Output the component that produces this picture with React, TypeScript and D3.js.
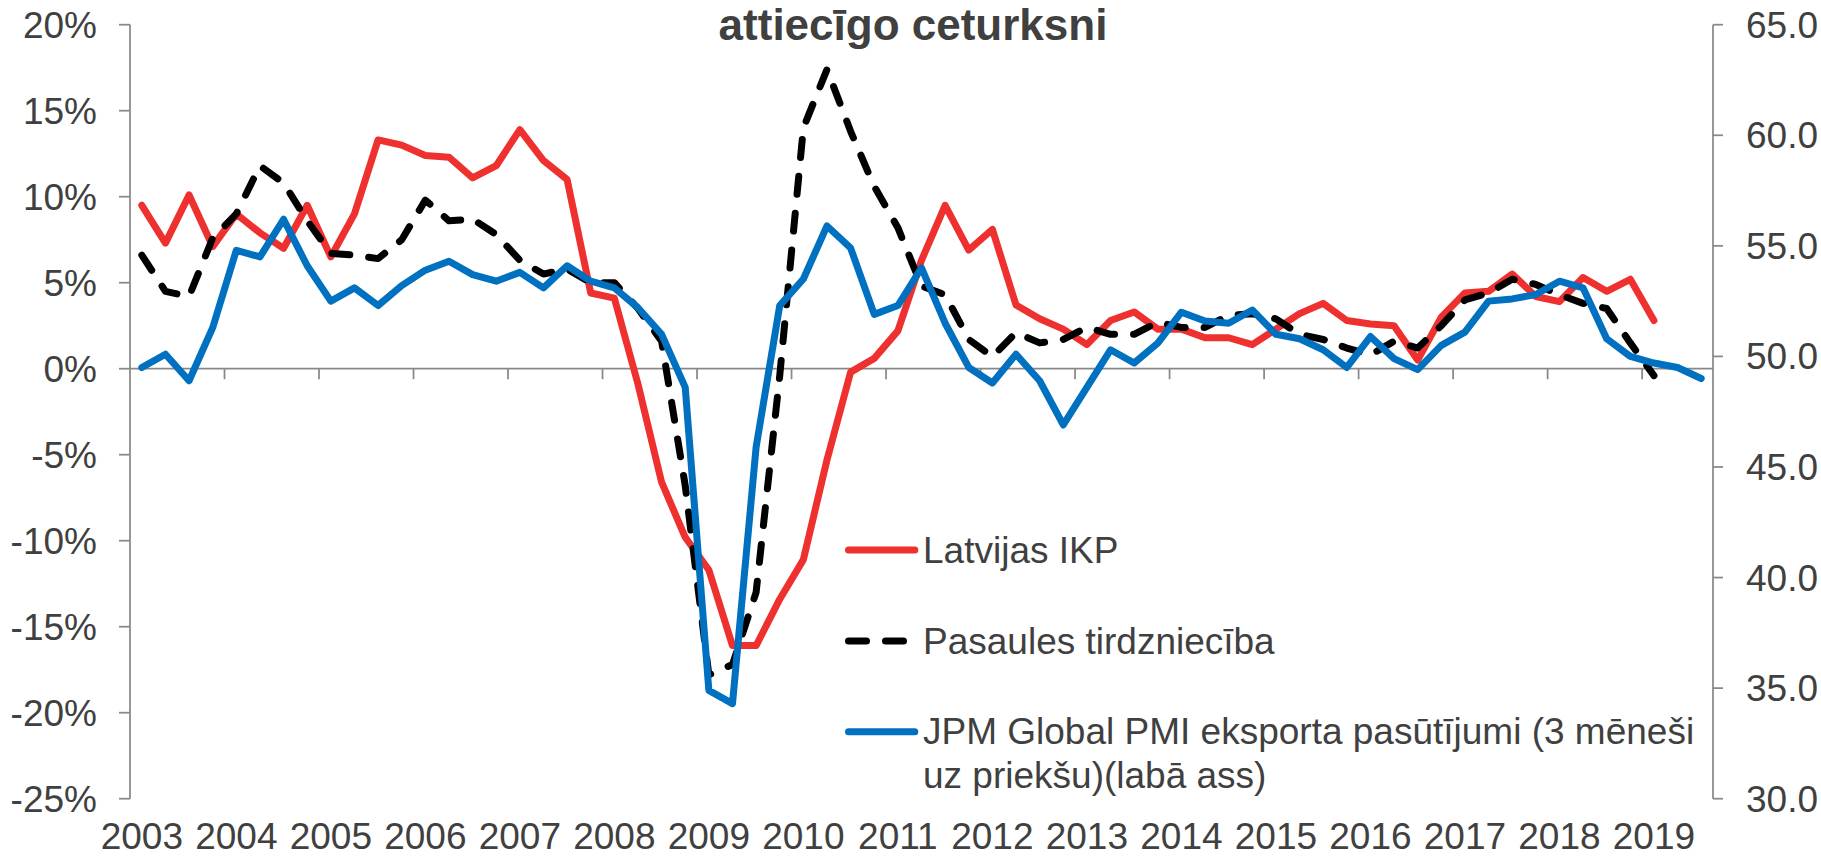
import * as d3 from "d3";

// Quarterly data, 2003Q1 .. 2019Q3
const years = ["2003", "2004", "2005", "2006", "2007", "2008", "2009", "2010", "2011", "2012", "2013", "2014", "2015", "2016", "2017", "2018", "2019"];
const quarterCount = 67;

// Latvijas IKP, % y/y (left axis)
const latviaGdp = [
  9.5, 7.3, 10.1, 7.1, 9.0, 7.9, 7.0, 9.5, 6.5, 9.0, 13.3, 13.0, 12.4, 12.3, 11.1, 11.8,
  13.9, 12.1, 11.0, 4.4, 4.1, -0.9, -6.6, -9.8, -11.7, -16.1, -16.1, -13.4, -11.1, -5.3, -0.2, 0.6,
  2.2, 6.3, 9.5, 6.9, 8.1, 3.7, 2.9, 2.3, 1.4, 2.8, 3.3, 2.3, 2.3, 1.8, 1.8, 1.4,
  2.3, 3.2, 3.8, 2.8, 2.6, 2.5, 0.5, 3.0, 4.4, 4.5, 5.5, 4.2, 3.9, 5.3, 4.5, 5.2,
  2.8,
];

// Pasaules tirdzniecība, % y/y (left axis)
const worldTrade = [
  6.6, 4.5, 4.2, 7.6, 9.0, 11.8, 10.8, 8.6, 6.7, 6.6, 6.4, 7.5, 9.8, 8.6, 8.7, 7.8,
  6.3, 5.5, 5.8, 5.0, 5.0, 3.5, 1.6, -6.8, -17.8, -17.2, -13.0, -0.4, 14.0, 17.4, 13.8, 10.6,
  8.2, 4.8, 4.3, 1.7, 0.7, 2.1, 1.5, 1.7, 2.4, 2.0, 2.0, 2.7, 2.4, 2.4, 3.1, 3.2,
  2.9, 2.0, 1.7, 1.2, 0.8, 1.6, 1.2, 2.5, 4.0, 4.4, 5.2, 4.9, 4.3, 3.8, 3.5, 1.5,
  -0.4,
];

// JPM Global PMI export orders, 3 months ahead (right axis)
const pmiExport = [
  49.5, 50.1, 48.9, 51.3, 54.8, 54.5, 56.2, 54.1, 52.5, 53.1, 52.3, 53.2, 53.9, 54.3, 53.7, 53.4,
  53.8, 53.1, 54.1, 53.4, 53.1, 52.2, 51.0, 48.6, 34.9, 34.3, 45.9, 52.3, 53.5, 55.9, 54.9, 51.9,
  52.3, 54.0, 51.5, 49.5, 48.8, 50.1, 48.9, 46.9, 48.6, 50.3, 49.7, 50.6, 52.0, 51.6, 51.5, 52.1,
  51.0, 50.8, 50.3, 49.5, 50.9, 49.9, 49.4, 50.5, 51.1, 52.5, 52.6, 52.8, 53.4, 53.1, 50.8, 50.0,
  49.7, 49.5, 49.0,
];

const leftTicks = [20, 15, 10, 5, 0, -5, -10, -15, -20, -25];
const rightTicks = [65, 60, 55, 50, 45, 40, 35, 30];

const legendItems = [
  { lines: ["Latvijas IKP"], color: "#ee302e", dash: null },
  { lines: ["Pasaules tirdzniecība"], color: "#000000", dash: "18 19" },
  { lines: ["JPM Global PMI eksporta pasūtījumi (3 mēneši", "uz priekšu)(labā ass)"], color: "#0070c0", dash: null },
];

const W = 1821;
const H = 857;
const FONT = "'Liberation Sans', Arial, sans-serif";
const TEXT = "#404040";
const AXIS = "#888888";

export default function App() {
  const quarters = years.flatMap((y) => [1, 2, 3, 4].map((q) => `${y}Q${q}`)).slice(0, quarterCount);

  const x = d3.scaleBand<string>().domain(quarters).range([130, 1713]).padding(0);
  const cx = (i: number) => (x(quarters[i]) ?? 0) + x.bandwidth() / 2;
  const yL = d3.scaleLinear().domain([-25, 20]).range([798.7, 24.7]);
  const yR = d3.scaleLinear().domain([30, 65]).range([798.7, 24.7]);

  const lineL = d3.line<number>().x((_, i) => cx(i)).y((d) => yL(d));
  const lineR = d3.line<number>().x((_, i) => cx(i)).y((d) => yR(d));

  const zeroY = yL(0);
  const tickIdx = d3.range(4, quarterCount, 4);

  return (
    <svg width={W} height={H} style={{ position: "absolute", left: 0, top: 0, background: "#fff" }} fontFamily={FONT}>
      {/* title (only its last line is in view) */}
      <text x={913} y={40} textAnchor="middle" fontSize={44} fontWeight="bold" fill={TEXT}>
        attiecīgo ceturksni
      </text>

      {/* left axis */}
      <line x1={130} x2={130} y1={yL(20)} y2={yL(-25)} stroke={AXIS} strokeWidth={1.75} />
      {leftTicks.map((t) => (
        <g key={t}>
          <line x1={119} x2={130} y1={yL(t)} y2={yL(t)} stroke={AXIS} strokeWidth={1.75} />
          <text x={97} y={yL(t)} dy="0.35em" textAnchor="end" fontSize={37} fill={TEXT}>
            {`${t}%`}
          </text>
        </g>
      ))}

      {/* right axis */}
      <line x1={1713} x2={1713} y1={yR(65)} y2={yR(30)} stroke={AXIS} strokeWidth={1.75} />
      {rightTicks.map((t) => (
        <g key={t}>
          <line x1={1713} x2={1723} y1={yR(t)} y2={yR(t)} stroke={AXIS} strokeWidth={1.75} />
          <text x={1746} y={yR(t)} dy="0.35em" fontSize={37} fill={TEXT}>
            {d3.format(".1f")(t)}
          </text>
        </g>
      ))}

      {/* category axis at 0% */}
      <line x1={130} x2={1713} y1={zeroY} y2={zeroY} stroke={AXIS} strokeWidth={1.75} />
      {tickIdx.map((i) => (
        <line key={i} x1={x(quarters[i])} x2={x(quarters[i])} y1={zeroY} y2={zeroY + 10.5} stroke={AXIS} strokeWidth={1.75} />
      ))}
      {years.map((yr, k) => (
        <text key={yr} x={cx(k * 4)} y={849} textAnchor="middle" fontSize={37} fill={TEXT}>
          {yr}
        </text>
      ))}

      {/* series */}
      <path d={lineL(latviaGdp) ?? ""} fill="none" stroke="#ee302e" strokeWidth={7} strokeLinejoin="round" strokeLinecap="round" />
      <path d={lineL(worldTrade) ?? ""} fill="none" stroke="#000" strokeWidth={7} strokeDasharray="18 19" strokeLinejoin="round" strokeLinecap="round" />
      <path d={lineR(pmiExport) ?? ""} fill="none" stroke="#0070c0" strokeWidth={7} strokeLinejoin="round" strokeLinecap="round" />

      {/* legend */}
      {legendItems.map((item, k) => {
        const ly = [550, 641, 731.7][k];
        return (
          <g key={k}>
            <line x1={848.5} x2={item.dash ? 904 : 914.8} y1={ly} y2={ly} stroke={item.color} strokeWidth={7} strokeLinecap="round" strokeDasharray={item.dash ?? undefined} />
            {item.lines.map((ln, j) => (
              <text key={j} x={923} y={ly + 12.5 + j * 43.4} fontSize={37} fill={TEXT}>
                {ln}
              </text>
            ))}
          </g>
        );
      })}
    </svg>
  );
}
